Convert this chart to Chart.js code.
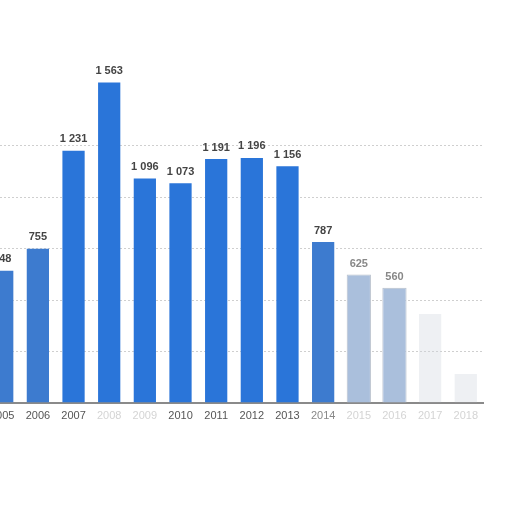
<!DOCTYPE html>
<html>
<head>
<meta charset="utf-8">
<script src="https://cdn.jsdelivr.net/npm/chart.js@4"></script>
<style>
  html, body { margin: 0; padding: 0; background: #fff; overflow: hidden; }
  #wrap { position: absolute; left: -16px; top: 0; width: 500px; height: 440px; }
</style>
</head>
<body>
<div id="wrap"><canvas id="chart"></canvas></div>
<script>
const years = ["2005", "2006", "2007", "2008", "2009", "2010", "2011", "2012", "2013", "2014", "2015", "2016", "2017", "2018"];
const values = [648, 755, 1231, 1563, 1096, 1073, 1191, 1196, 1156, 787, 625, 560, 438, 146];
const yTicks = [0, 250, 500, 750, 1000, 1250, 1500, 1750];

// faded bars at the edges of the picture
const barColor = (i) => {
  if (i >= 12) return "rgba(205,212,222,0.35)";
  if (i >= 10) return "#aabfdc";
  if (i === 0 || i === 1 || i === 9) return "#3d7bcf";
  return "#2a75d9";
};
const barBorder = (i) => (i === 10 || i === 11 ? "#b8c0cc" : "rgba(0,0,0,0)");
const tickColor = (i) => {
  if (i === 3 || i === 4 || i >= 10) return "#d4d4d4";
  if (i === 9) return "#888";
  return "#555";
};

const fmt = (v) => String(v).replace(/\B(?=(\d{3})+(?!\d))/g, " ");

const valueLabels = {
  id: "valueLabels",
  afterDatasetsDraw(chart) {
    const ctx = chart.ctx;
    const meta = chart.getDatasetMeta(0);
    ctx.save();
    ctx.font = "bold 11px 'Liberation Sans', Arial, sans-serif";
    ctx.textAlign = "center";
    ctx.textBaseline = "bottom";
    meta.data.forEach((bar, i) => {
      if (i >= 12) return;
      ctx.fillStyle = i >= 10 ? "#888" : "#444";
      ctx.fillText(fmt(values[i]), bar.x, bar.y - 5);
    });
    ctx.restore();
  },
};

new Chart(document.getElementById("chart"), {
  type: "bar",
  data: {
    labels: years,
    datasets: [{
      data: values,
      backgroundColor: values.map((v, i) => barColor(i)),
      borderColor: values.map((v, i) => barBorder(i)),
      borderWidth: 1,
      categoryPercentage: 0.68,
      barPercentage: 1,
    }],
  },
  options: {
    responsive: true,
    maintainAspectRatio: false,
    animation: false,
    layout: { padding: { top: 43, left: 0, right: 0, bottom: 0 } },
    plugins: { legend: { display: false }, tooltip: { enabled: false } },
    scales: {
      x: {
        grid: { display: false, drawTicks: false },
        border: { color: "#8a8a8a", width: 2 },
        ticks: {
          padding: 6,
          color: (c) => tickColor(c.index),
          font: { family: "'Liberation Sans', Arial, sans-serif", size: 11 },
        },
        afterFit: (s) => { s.height = 37; },
      },
      y: {
        min: 0,
        max: yTicks[yTicks.length - 1],
        afterBuildTicks: (s) => { s.ticks = yTicks.map((v) => ({ value: v })); },
        ticks: { display: false },
        border: { display: false, dash: [2, 2] },
        grid: {
          drawTicks: false,
          color: (c) => (c.tick && c.tick.value > 0 && c.tick.value <= 1250 ? "#cfcfcf" : "rgba(0,0,0,0)"),
        },
        afterFit: (s) => { s.width = 0; },
      },
    },
  },
  plugins: [valueLabels],
});
</script>
</body>
</html>
